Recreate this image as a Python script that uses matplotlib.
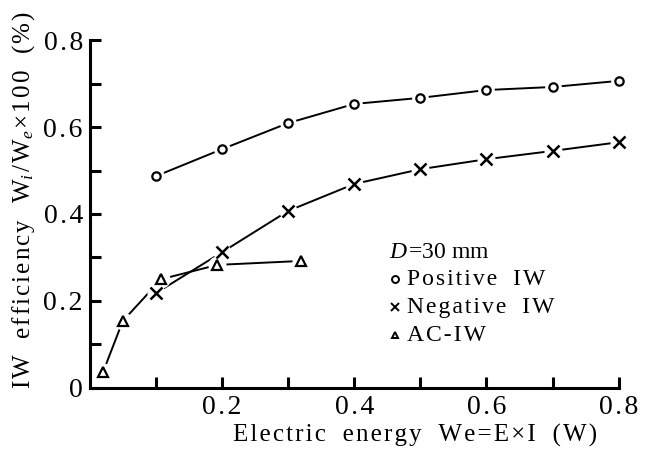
import matplotlib
matplotlib.use("Agg")
import matplotlib.pyplot as plt
from matplotlib.ticker import FixedLocator

plt.rcParams['font.family'] = ['Liberation Serif', 'DejaVu Serif']
plt.rcParams['mathtext.fontset'] = 'custom'
plt.rcParams['mathtext.rm'] = 'Liberation Serif'
plt.rcParams['mathtext.it'] = 'Liberation Serif:italic'

pos_x = [0.1, 0.2, 0.3, 0.4, 0.5, 0.6, 0.7, 0.8]
pos_y = [0.487, 0.549, 0.609, 0.653, 0.667, 0.685, 0.692, 0.706]
neg_x = [0.1, 0.2, 0.3, 0.4, 0.5, 0.6, 0.7, 0.8]
neg_y = [0.218, 0.312, 0.407, 0.469, 0.503, 0.526, 0.545, 0.565]
ac_x = [0.020, 0.050, 0.108, 0.193, 0.319]
ac_y = [0.036, 0.154, 0.250, 0.283, 0.292]

x_ticks = [0.2, 0.4, 0.6, 0.8]
x_ticklabels = ['0.2', '0.4', '0.6', '0.8']
y_ticks = [0, 0.2, 0.4, 0.6, 0.8]
y_ticklabels = ['0', '0.2', '0.4', '0.6', '0.8']

HS = '\u200a'


def spaced(s):
    return HS.join(s).replace(' ', '  ')


fig = plt.figure(figsize=(6.52, 4.51), dpi=100)
ax = fig.add_axes([0.1376, 0.1397, 0.8114, 0.7716])

lw = 1.4
ax.plot(pos_x, pos_y, color='black', lw=lw, zorder=1, clip_on=False)
ax.plot(neg_x, neg_y, color='black', lw=lw, zorder=1, clip_on=False)
ax.plot(ac_x, ac_y, color='black', lw=lw, zorder=1, clip_on=False)

for xs, ys, s in [(pos_x, pos_y, 12), (neg_x, neg_y, 13), (ac_x, ac_y, 13)]:
    ax.plot(xs, ys, ls='none', marker='o', ms=s, mfc='white', mec='none', zorder=2, clip_on=False)

ax.plot(pos_x, pos_y, ls='none', marker='o', ms=6, mfc='white', mec='black', mew=1.6, zorder=3, clip_on=False)
ax.plot(neg_x, neg_y, ls='none', marker='x', ms=8, mec='black', mew=1.8, zorder=3, clip_on=False)
ax.plot(ac_x, ac_y, ls='none', marker='^', ms=7, mfc='white', mec='black', mew=1.6, zorder=3, clip_on=False)

ax.set_xlim(0, 0.8)
ax.set_ylim(0, 0.8)
for s in ['top', 'right']:
    ax.spines[s].set_visible(False)
for s in ['left', 'bottom']:
    ax.spines[s].set_linewidth(2.2)

ax.xaxis.set_major_locator(FixedLocator(x_ticks))
ax.xaxis.set_minor_locator(FixedLocator([0.1, 0.3, 0.5, 0.7]))
ax.yaxis.set_major_locator(FixedLocator(y_ticks))
ax.yaxis.set_minor_locator(FixedLocator([0.1, 0.3, 0.5, 0.7]))
ax.set_xticklabels([HS.join(t) for t in x_ticklabels])
ax.set_yticklabels([HS.join(t) for t in y_ticklabels])
ax.tick_params(which='both', direction='in', length=8, width=2.2, labelsize=20)
ax.tick_params(axis='x', pad=5)
ax.tick_params(axis='y', pad=5)

ax.set_xlabel(spaced('Electric energy We=E×I (W)'), fontsize=18)
ax.xaxis.set_label_coords(0.615, -0.103)
ylab = (spaced('IW efficiency W') + r'$_{i}$' + HS + '/' + HS + 'W' + r'$_{e}$'
        + HS + spaced('×100 (%)'))
ax.set_ylabel(ylab, fontsize=18)
ax.yaxis.set_label_coords(-0.10, 0.54)

fs = 17
ax.text(0.452, 0.312, r'$\mathit{D}$' + HS + '=30 ' + r'$\mathregular{mm}$', fontsize=fs,
        va='center', ha='left')
ax.plot([0.462], [0.251], ls='none', marker='o', ms=5, mfc='white', mec='black', mew=1.4, clip_on=False)
ax.text(0.480, 0.250, spaced('Positive IW'), fontsize=fs, va='center', ha='left')
ax.plot([0.462], [0.187], ls='none', marker='x', ms=6, mec='black', mew=1.4, clip_on=False)
ax.text(0.480, 0.186, spaced('Negative IW'), fontsize=fs, va='center', ha='left')
ax.plot([0.462], [0.122], ls='none', marker='^', ms=5, mfc='white', mec='black', mew=1.4, clip_on=False)
ax.text(0.480, 0.121, spaced('AC-IW'), fontsize=fs, va='center', ha='left')

fig.savefig('out.png', dpi=100)
